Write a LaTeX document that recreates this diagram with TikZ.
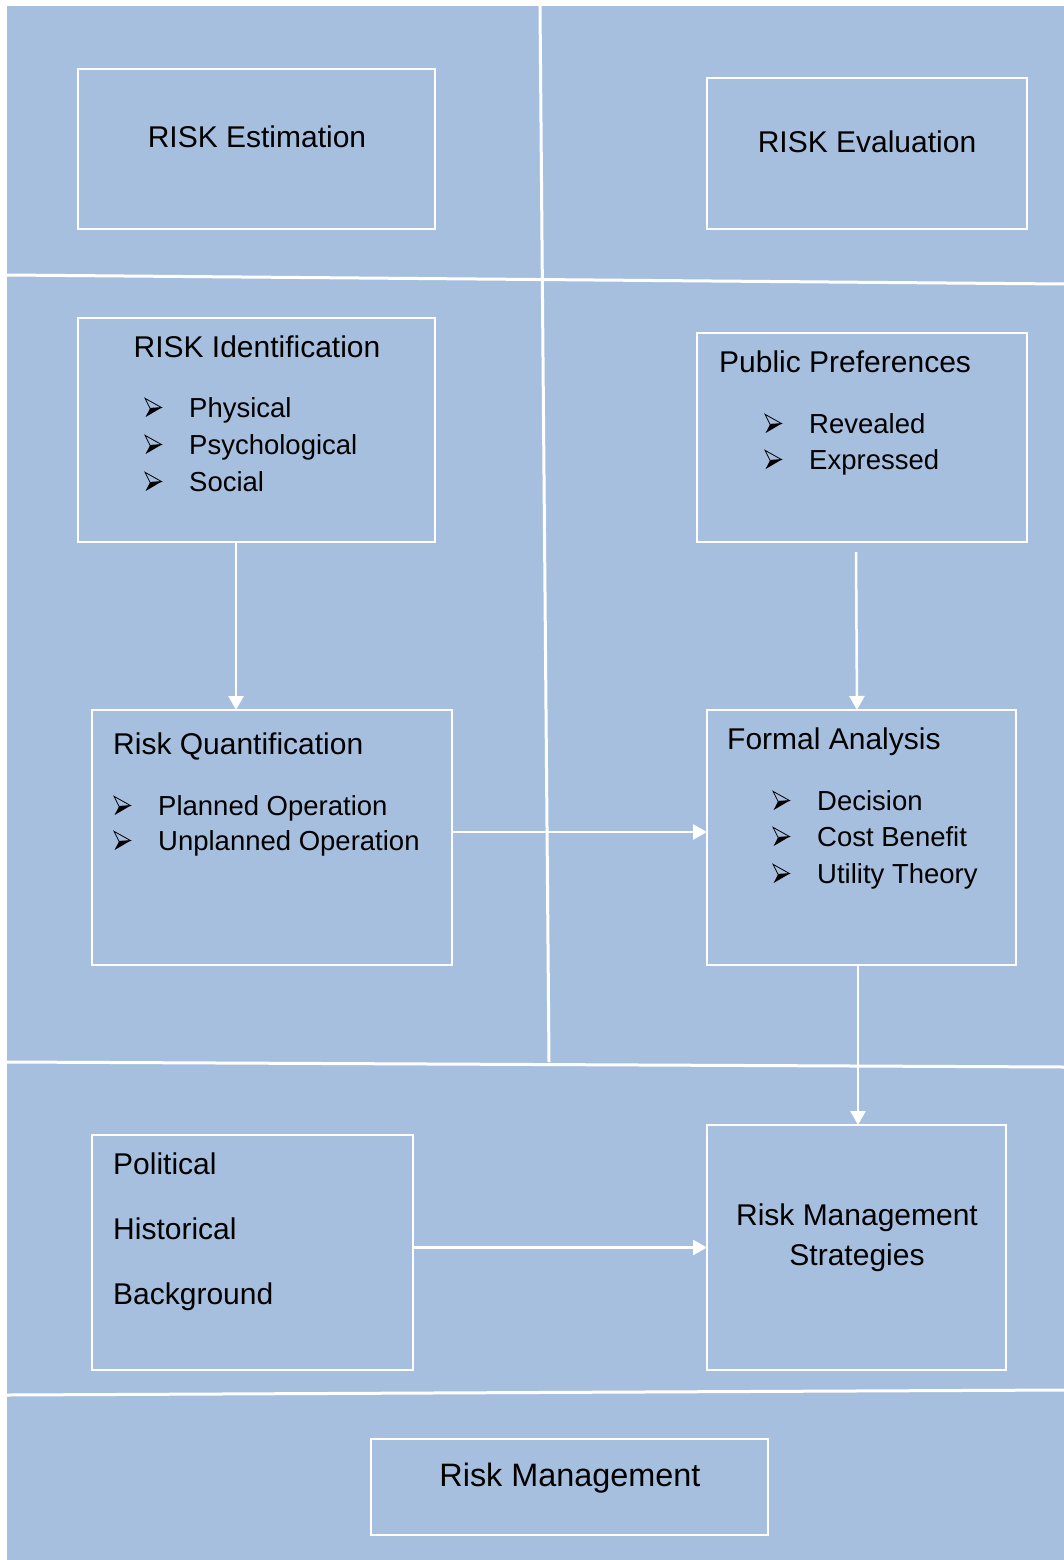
\documentclass[tikz,border=0pt]{standalone}
\usepackage{fontspec}
\setmainfont{Liberation Sans}
\usetikzlibrary{arrows.meta,calc}
\definecolor{bgblue}{RGB}{167,191,222}
\tikzset{
  divider/.style={white, line width=3pt},
  box/.style={draw=white, line width=2.5pt, rectangle, anchor=north west, inner sep=0pt, outer sep=0pt},
  ttl/.style={anchor=base, font=\fontsize{30}{36}\selectfont, inner sep=0pt},
  ttlw/.style={anchor=base west, font=\fontsize{30}{36}\selectfont, inner sep=0pt},
  itm/.style={anchor=base west, font=\fontsize{27.5}{33}\selectfont, inner sep=0pt},
  arrowbullet/.pic={
    \fill[black] (5,-8.7) -- (16.6,-9.4) -- (0.6,0) -- cycle;
    \draw[black, line width=0.8pt, line join=miter] (0,-18.7) -- (16.6,-9.4) -- (5,-8.7) -- cycle;
  },
  arr/.style={white, line width=2.5pt, -{Triangle[length=14pt,width=15pt]}}
}
\begin{document}
\begin{tikzpicture}[x=1pt,y=-1pt]
\useasboundingbox (0,0) rectangle (1064,1560);
\fill[white] (0,0) rectangle (1064,1560);
\fill[bgblue] (7,6) rectangle (1064,1560);
% dividers
\coordinate (vtop) at (540,6);
\coordinate (vbot) at (549,1062);
\coordinate (h1l) at (7,275);
\coordinate (h1r) at (1064,284);
\coordinate (h2l) at (7,1062);
\coordinate (h2r) at (1064,1067);
\coordinate (h3l) at (7,1395);
\coordinate (h3r) at (1064,1390);
\draw[divider] (vtop) -- (vbot);
\draw[divider] (h1l) -- (h1r);
\draw[divider] (h2l) -- (h2r);
\draw[divider] (h3l) -- (h3r);
% boxes
\node[box, minimum width=357pt, minimum height=160pt] (est) at (78,69) {};
\node[box, minimum width=320pt, minimum height=151pt] (eval) at (707,78) {};
\node[box, minimum width=357pt, minimum height=224pt] (ident) at (78,318) {};
\node[box, minimum width=330pt, minimum height=209pt] (pp) at (697,333) {};
\node[box, minimum width=360pt, minimum height=255pt] (quant) at (92,710) {};
\node[box, minimum width=309pt, minimum height=255pt] (fa) at (707,710) {};
\node[box, minimum width=321pt, minimum height=235pt] (pol) at (92,1135) {};
\node[box, minimum width=299pt, minimum height=245pt] (rms) at (707,1125) {};
\node[box, minimum width=397pt, minimum height=96pt] (rm) at (371,1439) {};
% texts
\node[ttl] (estT) at (257,147) {RISK Estimation};
\node[ttl] (evalT) at (867,152) {RISK Evaluation};
\node[ttl] (identT) at (257,357) {RISK Identification};
\pic at (145,417) {arrowbullet};
\pic at (145,454) {arrowbullet};
\pic at (145,491) {arrowbullet};
\node[itm] (i1) at (189,417) {Physical};
\node[itm] (i2) at (189,454) {Psychological};
\node[itm] (i3) at (189,491) {Social};
\node[ttlw] (ppT) at (719,372) {Public Preferences};
\pic at (765,433) {arrowbullet};
\pic at (765,469) {arrowbullet};
\node[itm] (p1) at (809,433) {Revealed};
\node[itm] (p2) at (809,469) {Expressed};
\node[ttlw] (quantT) at (113,754) {Risk Quantification};
\pic at (114,815) {arrowbullet};
\pic at (114,850) {arrowbullet};
\node[itm] (q1) at (158,815) {Planned Operation};
\node[itm] (q2) at (158,850) {Unplanned Operation};
\node[ttlw] (faT) at (727,749) {Formal Analysis};
\pic at (773,810) {arrowbullet};
\pic at (773,846) {arrowbullet};
\pic at (773,883) {arrowbullet};
\node[itm] (f1) at (817,810) {Decision};
\node[itm] (f2) at (817,846) {Cost Benefit};
\node[itm] (f3) at (817,883) {Utility Theory};
\node[ttlw] (pol1) at (113,1174) {Political};
\node[ttlw] (pol2) at (113,1239) {Historical};
\node[ttlw] (pol3) at (113,1304) {Background};
\node[ttl] (rms1) at (857,1225) {Risk Management};
\node[ttl] (rms2) at (857,1265) {Strategies};
\node[anchor=base, font=\fontsize{32.4}{38}\selectfont, inner sep=0pt] (rmT) at (570,1486) {Risk Management};
% arrows
\draw[arr] ([xshift=-20.5pt]ident.south) -- ([xshift=-36pt]quant.north);
\draw[arr] ([xshift=-6pt,yshift=-10pt]pp.south) -- ([xshift=-4.5pt]fa.north);
\draw[arr] ([yshift=5.5pt]quant.east) -- ([yshift=5.5pt]quant.east -| fa.west);
\draw[arr] ([xshift=-3.5pt]fa.south) -- ([xshift=1.5pt]rms.north);
\draw[arr] (pol.east |- rms.west) -- (rms.west);
\end{tikzpicture}
\end{document}
